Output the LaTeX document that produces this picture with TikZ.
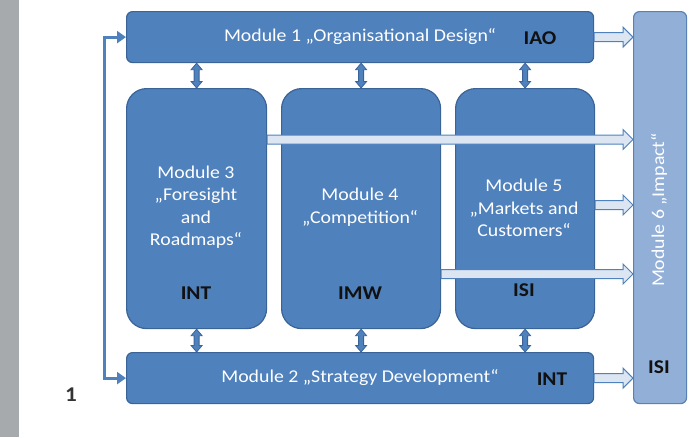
\documentclass[tikz,border=0pt]{standalone}
\usepackage{fontspec}
\setmainfont{Carlito}[FakeStretch=1.1]
\usetikzlibrary{arrows.meta,calc}

\definecolor{modfill}{HTML}{4F81BD}
\definecolor{modline}{HTML}{3A6498}
\definecolor{impfill}{HTML}{92AFD8}
\definecolor{impline}{HTML}{5A80B8}
\definecolor{arrfill}{HTML}{DCE5F2}
\definecolor{sidebar}{HTML}{A6AAAD}
\definecolor{labelink}{HTML}{111111}

\tikzset{
  module/.style={draw=modline, line width=1.2pt, fill=modfill, rounded corners=6pt,
    anchor=north west, inner sep=0pt},
  tallmodule/.style={module, rounded corners=20pt},
  impact/.style={module, fill=impfill, draw=impline},
  modtext/.style={text=white, font=\fontsize{18}{22.5}\selectfont, align=center, inner sep=0pt},
  inst/.style={text=labelink, font=\fontsize{19.5}{22}\selectfont\bfseries, inner sep=0pt},
  flowarrow/.style={draw=modfill, line width=1pt, fill=arrfill, line join=miter},
  linkarrow/.style={draw=modline, line width=0.8pt, fill=modfill},
  feedback/.style={draw=modfill, line width=3pt, {Triangle[length=9pt,width=12pt]}-{Triangle[length=9pt,width=12pt]}},
}

% horizontal block arrow from #1 to #2 (same height)
\newcommand\flowto[2]{%
  \path[flowarrow] let \p1=(#1), \p2=(#2) in
    (\x1,\y1+4.5) -- (\x2-10,\y1+4.5) -- (\x2-10,\y1+10) -- (\x2,\y1)
    -- (\x2-10,\y1-10) -- (\x2-10,\y1-4.5) -- (\x1,\y1-4.5) -- cycle;}
% vertical two-headed arrow between #1 (upper) and #2 (lower)
\newcommand\linkto[2]{%
  \path[linkarrow] let \p1=(#1), \p2=(#2) in
    (\x1,\y1) -- (\x1+5.5,\y1-6.5) -- (\x1+2.5,\y1-6.5) -- (\x1+2.5,\y2+6.5)
    -- (\x1+5.5,\y2+6.5) -- (\x1,\y2) -- (\x1-5.5,\y2+6.5) -- (\x1-2.5,\y2+6.5)
    -- (\x1-2.5,\y1-6.5) -- (\x1-5.5,\y1-6.5) -- cycle;}

\begin{document}
\begin{tikzpicture}[x=1pt, y=-1pt]
  \useasboundingbox (0,0) rectangle (694,437);
  \fill[sidebar] (0,0) rectangle (19,437);

  % modules
  \node[module, minimum width=467pt, minimum height=51pt] (m1) at (126,11) {};
  \node[module, minimum width=467pt, minimum height=51pt] (m2) at (126,352) {};
  \node[tallmodule, minimum width=140pt, minimum height=240pt] (m3) at (126,88) {};
  \node[tallmodule, minimum width=159pt, minimum height=240pt] (m4) at (281,88) {};
  \node[tallmodule, minimum width=139pt, minimum height=240pt] (m5) at (455,88) {};
  \node[impact, minimum width=53pt, minimum height=392pt] (m6) at (633,11) {};

  % links between the cross-cutting modules and the core modules
  \foreach \m in {m3,m4,m5} {
    \linkto{m1.south -| \m.north}{\m.north}
    \linkto{\m.south}{m2.north -| \m.south}
  }

  % flows into the impact module
  \coordinate (lvA) at (0,139.5);
  \coordinate (lvB) at (0,205);
  \coordinate (lvC) at (0,274);
  \flowto{m1.east}{m1.east -| m6.west}
  \flowto{m2.east}{m2.east -| m6.west}
  \flowto{m3.east |- lvA}{m6.west |- lvA}
  \flowto{m5.east |- lvB}{m6.west |- lvB}
  \flowto{m4.east |- lvC}{m6.west |- lvC}

  % feedback between module 1 and module 2
  \draw[feedback] (m1.west) -- ++(-22,0) |- (m2.west);

  % labels
  \node[modtext] (t1) at (360,37) {Module 1 „Organisational Design“};
  \node[inst] (i1) at (540,38) {IAO};
  \node[modtext] (t2) at (360,378) {Module 2 „Strategy Development“};
  \node[inst] (i2) at (552,379) {INT};
  \node[modtext] (t3) at (196,207) {Module 3\\„Foresight\\and\\Roadmaps“};
  \node[inst] (i3) at (196,293) {INT};
  \node[modtext] (t4) at (360,207) {Module 4\\„Competition“};
  \node[inst] (i4) at (360,293) {IMW};
  \node[modtext] (t5) at (524,208) {Module 5\\„Markets and\\Customers“};
  \node[inst] (i5) at (524,290) {ISI};
  \node[modtext, rotate=90] (t6) at (659,210) {Module 6 „Impact“};
  \node[inst] (i6) at (659,367) {ISI};
  \node[inst, text=black!80, font=\fontsize{21}{24}\selectfont\bfseries] (fig) at (71,395) {1};
\end{tikzpicture}
\end{document}
